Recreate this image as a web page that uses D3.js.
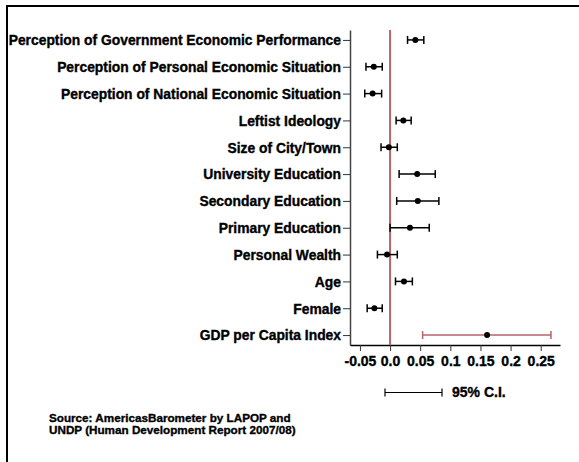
<!DOCTYPE html>
<html><head><meta charset="utf-8">
<script src="https://cdn.jsdelivr.net/npm/d3@7"></script>
<style>
html,body{margin:0;padding:0;background:#fff;}
svg text{font-family:"Liberation Sans",Arial,sans-serif;font-weight:bold;fill:#000;stroke:#000;stroke-width:0.35px;}
</style></head>
<body><svg id="c" width="579" height="462"></svg>
<script>
const categories = ["Perception of Government Economic Performance","Perception of Personal Economic Situation","Perception of National Economic Situation","Leftist Ideology","Size of City/Town","University Education","Secondary Education","Primary Education","Personal Wealth","Age","Female","GDP per Capita Index"];
const estimates = [0.042,-0.027,-0.029,0.022,-0.002,0.045,0.046,0.033,-0.005,0.023,-0.026,0.161];
const lower = [0.029,-0.040,-0.042,0.010,-0.015,0.015,0.011,0.000,-0.021,0.009,-0.038,0.054];
const upper = [0.056,-0.013,-0.014,0.035,0.012,0.075,0.081,0.065,0.012,0.037,-0.013,0.267];
const xTicks = [-0.05,0,0.05,0.1,0.15,0.2,0.25];
const xTickLabels = ["-0.05","0.0","0.05","0.1","0.15","0.2","0.25"];
const sourceLines = ["Source: AmericasBarometer by LAPOP and","UNDP (Human Development Report 2007/08)"];

const svg = d3.select("#c");
const red = "#b5646a";
// frame
svg.append("path").attr("d","M7,462 V6 H579").attr("fill","none").attr("stroke","#000").attr("stroke-width",2);

const x = d3.scaleLinear().domain([-0.0665,0.282]).range([350,560]);
const y = d3.scalePoint().domain(categories).range([30,345]).padding(0.37);

// y axis
const ya = svg.append("g").attr("transform","translate(350,0)")
  .call(d3.axisLeft(y).tickSize(7).tickPadding(2).tickSizeOuter(0));
ya.select(".domain").attr("stroke","#444").attr("stroke-width",1.5);
ya.selectAll(".tick line").attr("stroke","#333").attr("stroke-width",1);
ya.selectAll("text").style("font-size","13.85px").attr("dy","0.35em");

// x axis
const xa = svg.append("g").attr("transform","translate(0,345)")
  .call(d3.axisBottom(x).tickValues(xTicks).tickFormat((d,i)=>xTickLabels[i]).tickSize(6).tickPadding(5).tickSizeOuter(0));
xa.select(".domain").attr("stroke","#000").attr("stroke-width",1.5);
xa.selectAll(".tick line").attr("stroke","#333");
xa.selectAll("text").style("font-size","14px");

// zero line
svg.append("line").attr("x1",x(0)).attr("x2",x(0)).attr("y1",30).attr("y2",345)
  .attr("stroke",red).attr("stroke-width",2);

// CIs
const g = svg.append("g");
categories.forEach((c,i)=>{
  const col = i===categories.length-1 ? red : "#000";
  const yy = y(c);
  g.append("line").attr("x1",x(lower[i])).attr("x2",x(upper[i])).attr("y1",yy).attr("y2",yy).attr("stroke",col).attr("stroke-width",1.5);
  [lower[i],upper[i]].forEach(v=>{
    g.append("line").attr("x1",x(v)).attr("x2",x(v)).attr("y1",yy-4).attr("y2",yy+4).attr("stroke",col).attr("stroke-width",1.5);
  });
  g.append("circle").attr("cx",x(estimates[i])).attr("cy",yy).attr("r",3).attr("fill","#000");
});

// legend
const ly = 392.5;
svg.append("line").attr("x1",385).attr("x2",442).attr("y1",ly).attr("y2",ly).attr("stroke","#000").attr("stroke-width",1.2);
[385,442].forEach(v=>svg.append("line").attr("x1",v).attr("x2",v).attr("y1",ly-4).attr("y2",ly+4).attr("stroke","#000").attr("stroke-width",1.2));
svg.append("text").attr("x",452).attr("y",ly).attr("dy","0.35em").style("font-size","14px").text("95% C.I.");

// source
svg.append("g").selectAll("text").data(sourceLines).join("text")
  .attr("x",49).attr("y",(d,i)=>418+i*12).attr("dy","0.35em").style("font-size","11.7px").text(d=>d);
</script></body></html>
